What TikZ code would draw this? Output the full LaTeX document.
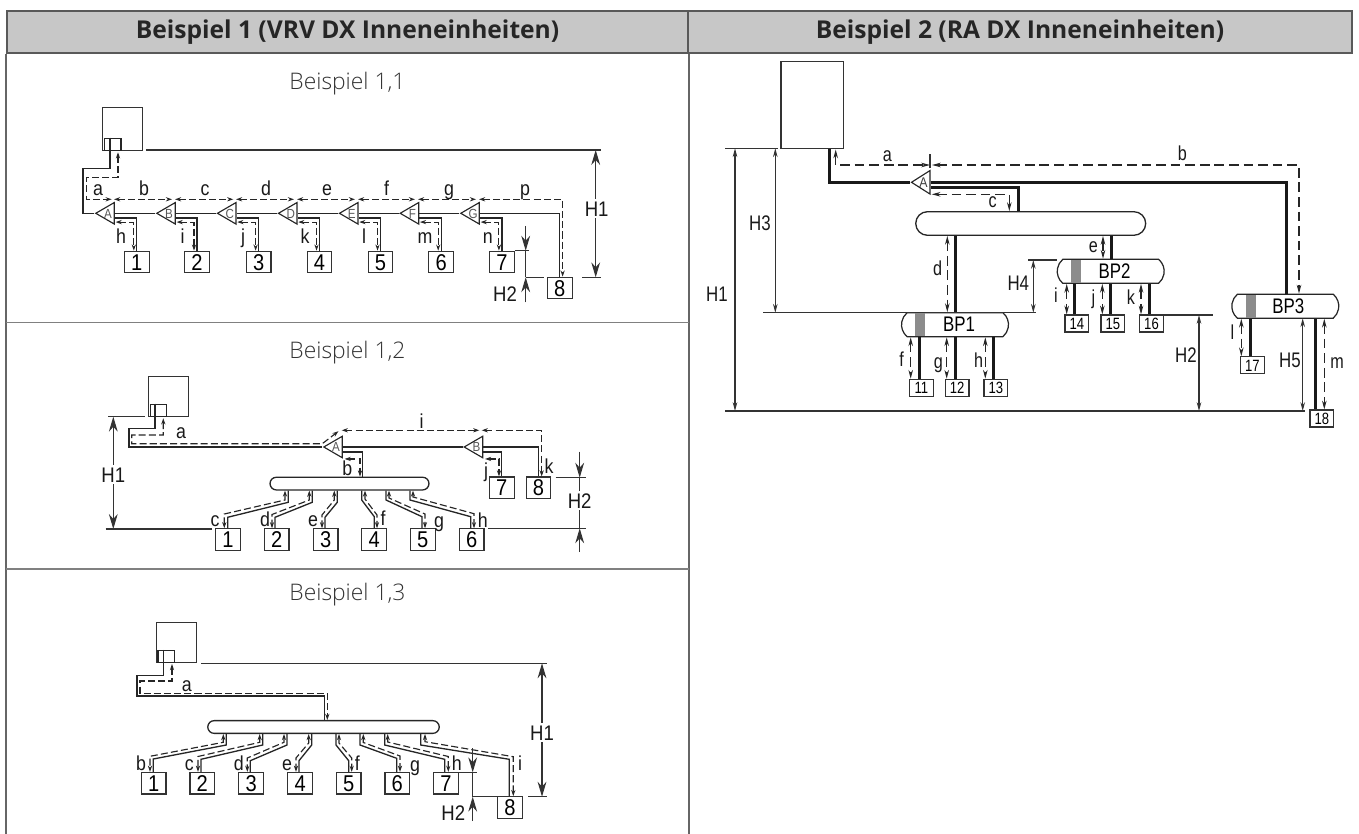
\documentclass[tikz,border=0pt]{standalone}
\usepackage{fontspec}
\usetikzlibrary{arrows.meta,shapes.geometric,shapes.misc}
\newfontfamily\lblfont[FakeStretch=0.88]{Liberation Sans}
\newfontfamily\narrowfont[FakeStretch=0.8]{Liberation Sans}
\newfontfamily\headfont{Open Sans}
\newfontfamily\titfont{Open Sans Light}
\newcommand{\teel}[1]{\raisebox{-2.7pt}[0pt][0pt]{\makebox[0pt]{#1}}}
\tikzset{
  headcell/.style={draw=black!65, fill=black!22, line width=0.9pt, inner sep=0pt, minimum height=0.84cm, font=\headfont\bfseries\fontsize{14}{16}\selectfont, text=black!85},
  titcell/.style={inner sep=0pt, font=\titfont\fontsize{13}{15}\selectfont, text=black!80},
  frame/.style={draw=black!60, line width=0.9pt},
  pipe/.style={draw=black!85, line width=0.75pt},
  fatpipe/.style={draw=black!90, line width=1.7pt},
  dpipe/.style={draw=black!85, line width=0.65pt, dash pattern=on 4pt off 1.8pt, arrows={Stealth[length=3.5pt,width=2.4pt]-Stealth[length=3.5pt,width=2.4pt]}},
  dlong/.style={draw=black!85, line width=0.6pt, dash pattern=on 5.5pt off 2.8pt, arrows={Stealth[length=5pt,width=2.6pt]-Stealth[length=5pt,width=2.6pt]}},
  dimtick/.style={draw=black!80, line width=0.75pt},
  dimbig/.style={draw=black!80, line width=0.6pt, arrows={Stealth[length=8.5pt,width=5pt]-Stealth[length=8.5pt,width=5pt]}},
  dimone/.style={draw=black!80, line width=0.6pt, arrows={-Stealth[length=8.5pt,width=5pt]}},
  dimthin/.style={draw=black!80, line width=0.6pt, arrows={Stealth[length=5pt,width=2.6pt]-Stealth[length=5pt,width=2.6pt]}},
  ounit/.style={draw=black!80, line width=0.7pt, inner sep=0pt, minimum width=0.8cm, minimum height=0.8cm},
  pcb/.style={draw=black!85, line width=0.7pt, inner sep=0pt, minimum width=0.33cm, minimum height=0.24cm},
  unit/.style={draw=black!80, line width=0.7pt, inner sep=0pt, minimum width=0.494cm, minimum height=0.43cm, text height=9.3pt, text depth=0pt, font=\lblfont\fontsize{13}{15}\selectfont},
  minibox/.style={draw=black!80, line width=0.7pt, inner sep=0pt, minimum width=0.474cm, minimum height=0.34cm, text height=6.6pt, text depth=0pt, font=\narrowfont\fontsize{9.3}{10}\selectfont},
  tee/.style={draw=black!85, line width=0.65pt, isosceles triangle, isosceles triangle stretches, shape border rotate=180, inner sep=0pt, minimum height=0.37cm, minimum width=0.43cm, anchor=apex, text=black!65, font=\lblfont\fontsize{7.5}{8}\selectfont},
  hdr/.style={draw=black!85, line width=0.75pt, rounded rectangle, rounded rectangle east arc=convex, inner sep=0pt},
  bpbox/.style={draw=black!85, line width=0.7pt, fill=white, rounded rectangle, rounded rectangle arc length=100, inner sep=0pt, minimum width=2.14cm, minimum height=0.48cm, font=\narrowfont\fontsize{12}{14}\selectfont},
  bpband/.style={fill=black!45, inner sep=0pt, minimum width=0.2cm, minimum height=0.46cm},
  lbl/.style={inner sep=0pt, text height=8pt, text depth=0pt, text=black!90, font=\lblfont\fontsize{11.5}{13}\selectfont},
  nlbl/.style={inner sep=0pt, text height=8pt, text depth=0pt, text=black!90, font=\narrowfont\fontsize{11.5}{13}\selectfont},
  dimlbl/.style={inner sep=1pt, fill=white, text height=8.6pt, text depth=0pt, text=black!90, font=\lblfont\fontsize{12}{14}\selectfont},
  ndimlbl/.style={inner sep=0pt, text height=8.6pt, text depth=0pt, text=black!90, font=\narrowfont\fontsize{12}{14}\selectfont}
}
\begin{document}
\begin{tikzpicture}[x=0.02cm,y=-0.02cm]
\useasboundingbox (0,0) rectangle (1359,834);

\node[headcell, minimum width=13.62cm] (head1) at (347.5,32) {Beispiel 1 (VRV DX Inneneinheiten)};
\node[headcell, minimum width=13.28cm] (head2) at (1020,32) {Beispiel 2 (RA DX Inneneinheiten)};
\draw[frame] (head1.south west) -- (head1.west |- 0,834);
\draw[frame] (head1.south east) -- (head1.east |- 0,834);
\draw[frame, draw=black!50, line width=1.1pt] (head1.west |- 0,322.5) -- (head1.east |- 0,322.5);
\draw[frame, draw=black!50, line width=1.1pt] (head1.west |- 0,569) -- (head1.east |- 0,569);
\node[titcell] (tit1) at (347.5,84) {Beispiel 1,1};
\node[titcell] (tit2) at (347.5,353) {Beispiel 1,2};
\node[titcell] (tit3) at (347.5,595) {Beispiel 1,3};

\node[ounit, minimum height=0.86cm] (ou1) at (122.3,128.8) {};
\node[pcb] (pc1) at (112.7,144.3) {};
\node[tee] (a1) at (94.3,213.3) {\teel{A}};
\node[tee] (b1) at (155.3,213.3) {\teel{B}};
\node[tee] (c1) at (216,213.3) {\teel{C}};
\node[tee] (d1) at (277,213.3) {\teel{D}};
\node[tee] (e1) at (338,213.3) {\teel{E}};
\node[tee] (f1) at (398.7,213.3) {\teel{F}};
\node[tee] (g1) at (459.3,213.3) {\teel{G}};
\node[unit] (u11) at (136.8,262) {1};
\node[unit] (u12) at (197,262) {2};
\node[unit] (u13) at (258.6,262) {3};
\node[unit] (u14) at (319.5,262) {4};
\node[unit] (u15) at (380.5,262) {5};
\node[unit] (u16) at (441.2,262) {6};
\node[unit] (u17) at (501.9,262) {7};
\node[unit] (u18) at (559.8,288) {8};
\draw[pipe] ([xshift=-1.5pt]pc1.north) |- (83,168.3) |- (a1.apex);
\draw[pipe] (a1.lower side) -- (b1.apex);
\draw[pipe] (b1.lower side) -- (c1.apex);
\draw[pipe] (c1.lower side) -- (d1.apex);
\draw[pipe] (d1.lower side) -- (e1.apex);
\draw[pipe] (e1.lower side) -- (f1.apex);
\draw[pipe] (f1.lower side) -- (g1.apex);
\draw[pipe] (g1.lower side) -| (u18.north);
\draw[pipe] ([yshift=-2.6pt]a1.lower side) -| (u11.north);
\draw[pipe] ([yshift=-2.6pt]b1.lower side) -| (u12.north);
\draw[pipe] ([yshift=-2.6pt]c1.lower side) -| (u13.north);
\draw[pipe] ([yshift=-2.6pt]d1.lower side) -| (u14.north);
\draw[pipe] ([yshift=-2.6pt]e1.lower side) -| (u15.north);
\draw[pipe] ([yshift=-2.6pt]f1.lower side) -| (u16.north);
\draw[pipe] ([yshift=-2.6pt]g1.lower side) -| (u17.north);
\draw[dpipe] ([yshift=-5pt,xshift=0.4pt]a1.lower side) -| ([xshift=-1.7pt]u11.north);
\draw[dpipe] ([yshift=-5pt,xshift=0.4pt]b1.lower side) -| ([xshift=-1.7pt]u12.north);
\draw[dpipe] ([yshift=-5pt,xshift=0.4pt]c1.lower side) -| ([xshift=-1.7pt]u13.north);
\draw[dpipe] ([yshift=-5pt,xshift=0.4pt]d1.lower side) -| ([xshift=-1.7pt]u14.north);
\draw[dpipe] ([yshift=-5pt,xshift=0.4pt]e1.lower side) -| ([xshift=-1.7pt]u15.north);
\draw[dpipe] ([yshift=-5pt,xshift=0.4pt]f1.lower side) -| ([xshift=-1.7pt]u16.north);
\draw[dpipe] ([yshift=-5pt,xshift=0.4pt]g1.lower side) -| ([xshift=-1.7pt]u17.north);
\coordinate (ra1) at (118,152.3);
\coordinate (ra2) at (111.7,199.3);
\coordinate (rb1) at (114,199.3);
\coordinate (rb2) at (172,199.3);
\coordinate (rc1) at (175,199.3);
\coordinate (rc2) at (233.3,199.3);
\coordinate (rd1) at (236,199.3);
\coordinate (rd2) at (294,199.3);
\coordinate (re1) at (297,199.3);
\coordinate (re2) at (355,199.3);
\coordinate (rf1) at (358,199.3);
\coordinate (rf2) at (415,199.3);
\coordinate (rg1) at (418,199.3);
\coordinate (rg2) at (476,199.3);
\coordinate (rp1) at (479,199.3);
\draw[dpipe] (ra1) |- (86.3,177.7) |- (ra2);
\draw[dpipe] (rb1) -- (rb2);
\draw[dpipe] (rc1) -- (rc2);
\draw[dpipe] (rd1) -- (rd2);
\draw[dpipe] (re1) -- (re2);
\draw[dpipe] (rf1) -- (rf2);
\draw[dpipe] (rg1) -- (rg2);
\draw[dpipe] (rp1) -| ([xshift=1.6pt]u18.north);
\node[lbl] (la1) at (98,188.7) {a};
\node[lbl] (lb1) at (144,188.7) {b};
\node[lbl] (lc1) at (205,188.7) {c};
\node[lbl] (ld1) at (266,188.7) {d};
\node[lbl] (le1) at (327,188.7) {e};
\node[lbl] (lf1) at (386.7,188.7) {f};
\node[lbl] (lg1) at (449,188.7) {g};
\node[lbl] (lp1) at (525,188.7) {p};
\node[lbl] (lh1) at (121,236.3) {h};
\node[lbl] (li1) at (182.7,236.3) {i};
\node[lbl] (lj1) at (243,236.3) {j};
\node[lbl] (lk1) at (305,236.3) {k};
\node[lbl] (ll1) at (364,236.3) {l};
\node[lbl] (lm1) at (425,236.3) {m};
\node[lbl] (ln1) at (487.7,236.3) {n};
\coordinate (h1t) at (595.7,150);
\coordinate (h1b) at (595.7,277.3);
\coordinate (h2a) at (525.7,226);
\coordinate (h2t) at (525.7,250.7);
\coordinate (h2b) at (525.7,277.3);
\coordinate (h2c) at (525.7,302.3);
\draw[dimtick] (h1t -| 146,0) -- (h1t -| 600.5,0);
\draw[dimtick] (h1b -| 582.3,0) -- (h1b -| 600.5,0);
\draw[dimbig] (h1t) -- (h1b);
\draw[dimtick] (h2t -| 515,0) -- (h2t -| 529,0);
\draw[dimtick] (h2b) -- (h2b -| 544,0);
\draw[dimone] (h2a) -- (h2t);
\draw[dimtick] (h2t) -- (h2b);
\draw[dimone] (h2c) -- (h2b);
\node[dimlbl] (lh11) at (596.7,208.5) {H1};
\node[dimlbl] (lh21) at (505,293.5) {H2};

\node[ounit] (ou2) at (168.2,396.5) {};
\node[pcb] (pc2) at (158.5,410.3) {};
\node[tee] (a2) at (322.3,447) {\teel{A}};
\node[tee] (b2) at (462.7,447) {\teel{B}};
\node[hdr, minimum width=3.18cm, minimum height=0.254cm] (hd2) at (349.5,483.6) {};
\node[unit] (u21) at (228,539.6) {1};
\node[unit] (u22) at (276.7,539.6) {2};
\node[unit] (u23) at (325.7,539.6) {3};
\node[unit] (u24) at (374.2,539.6) {4};
\node[unit] (u25) at (422.8,539.6) {5};
\node[unit] (u26) at (471.7,539.6) {6};
\node[unit] (u27) at (501.8,487.8) {7};
\node[unit] (u28) at (538.5,487.8) {8};
\draw[pipe] ([xshift=-2pt]pc2.north) |- (129,428.3) |- (a2.apex);
\draw[pipe] (a2.lower side) -- (b2.apex);
\draw[pipe] ([yshift=-2.8pt]a2.lower side) -| (hd2.north -| 362.3,0);
\draw[pipe] ([yshift=-2.8pt]b2.lower side) -| (u27.north);
\draw[pipe] (b2.lower side) -| (u28.north);
\draw[dpipe] ([yshift=-6.8pt,xshift=1pt]a2.lower side) -| (hd2.north -| 360,0);
\draw[dpipe] ([yshift=-6.8pt,xshift=1pt]b2.lower side) -| ([xshift=-1.6pt]u27.north);
\coordinate (sa1) at (163.3,418.3);
\coordinate (sa2) at (338.5,431.2);
\coordinate (si1) at (341.7,430.3);
\coordinate (si2) at (479.3,430.3);
\coordinate (sk1) at (481.7,430.3);
\draw[dpipe] (sa1) |- (131.7,435) |- (322.3,443.7) -- (sa2);
\draw[dpipe] (si1) -- (si2);
\draw[dpipe] (sk1) -| ([xshift=1.8pt]u28.north);
\draw[pipe] (hd2.south -| 288.3,0) -- (288.3,502.3) -- (227.7,517.3) -- (227.7,0 |- u21.north);
\draw[pipe] (hd2.south -| 312.3,0) -- (312.3,502.3) -- (275,517.3) -- (275,0 |- u22.north);
\draw[pipe] (hd2.south -| 337.3,0) -- (337.3,502.3) -- (325,517.3) -- (325,0 |- u23.north);
\draw[pipe] (hd2.south -| 361.7,0) -- (361.7,500) -- (374.3,516.7) -- (374.3,0 |- u24.north);
\draw[pipe] (hd2.south -| 386,0) -- (386,500) -- (422,516.7) -- (422,0 |- u25.north);
\draw[pipe] (hd2.south -| 410,0) -- (410,500) -- (470.7,516.7) -- (470.7,0 |- u26.north);
\draw[dpipe] (hd2.south -| 285,0) -- (285,500) -- (224.3,514) -- (224.3,0 |- u21.north);
\draw[dpipe] (hd2.south -| 309.3,0) -- (309.3,500) -- (272,514.5) -- (272,0 |- u22.north);
\draw[dpipe] (hd2.south -| 334.3,0) -- (334.3,500) -- (322,515) -- (322,0 |- u23.north);
\draw[dpipe] (hd2.south -| 365,0) -- (365,499) -- (377,515) -- (377,0 |- u24.north);
\draw[dpipe] (hd2.south -| 389,0) -- (389,498) -- (425,514) -- (425,0 |- u25.north);
\draw[dpipe] (hd2.south -| 413,0) -- (413,497) -- (474,513.7) -- (474,0 |- u26.north);
\node[lbl] (la2) at (181,431.7) {a};
\node[lbl] (lb2) at (347.3,468.7) {b};
\node[lbl] (lc2) at (215,519.7) {c};
\node[lbl] (ld2) at (265,519.7) {d};
\node[lbl] (le2) at (313,519.7) {e};
\node[lbl] (lf2) at (383,518.7) {f};
\node[lbl] (lg2) at (439,520.7) {g};
\node[lbl] (lh2) at (482.7,520) {h};
\node[lbl] (li2) at (421.7,421.3) {i};
\node[lbl] (lj2) at (486,470) {j};
\node[lbl] (lk2) at (549,466.3) {k};
\coordinate (h3t) at (113.3,416.7);
\coordinate (h3b) at (113.3,529);
\coordinate (h4a) at (579.7,451.7);
\coordinate (h4t) at (579.7,477.7);
\coordinate (h4b) at (579.7,528.3);
\coordinate (h4c) at (579.7,552);
\draw[dimtick] (h3t -| 108.3,0) -- (h3t -| 145,0);
\draw[dimtick] (h3b -| 105.7,0) -- (h3b -| 211.7,0);
\draw[dimbig] (h3t) -- (h3b);
\draw[dimtick] (h4t -| 555.7,0) -- (h4t -| 585.7,0);
\draw[dimtick] (h4b -| 488.3,0) -- (h4b -| 585.7,0);
\draw[dimone] (h4a) -- (h4t);
\draw[dimtick] (h4t) -- (h4b);
\draw[dimone] (h4c) -- (h4b);
\node[dimlbl] (lh12) at (113.3,474.5) {H1};
\node[dimlbl] (lh22) at (579.7,500.7) {H2};

\node[ounit] (ou3) at (176.2,642.7) {};
\node[pcb] (pc3) at (166.3,656.5) {};
\node[hdr, minimum width=4.63cm, minimum height=0.254cm] (hd3) at (323.5,727) {};
\node[unit] (u31) at (153.7,783.2) {1};
\node[unit] (u32) at (202.3,783.2) {2};
\node[unit] (u33) at (251.2,783.2) {3};
\node[unit] (u34) at (300.2,783.2) {4};
\node[unit] (u35) at (348.7,783.2) {5};
\node[unit] (u36) at (397.3,783.2) {6};
\node[unit] (u37) at (446,783.2) {7};
\node[unit] (u38) at (510,807.5) {8};
\draw[pipe] ([xshift=-1.5pt]pc3.north) |- (137,675.3) |- (324.3,696) -- (hd3.north -| 324.3,0);
\coordinate (ta1) at (172,664);
\draw[dpipe] (ta1) |- (140,681) |- (327.3,693.3) -- (hd3.north -| 327.3,0);
\draw[pipe] (hd3.south -| 226.3,0) -- (226.3,745) -- (153.3,759) -- (153.3,0 |- u31.north);
\draw[pipe] (hd3.south -| 262.7,0) -- (262.7,745) -- (201,759.3) -- (201,0 |- u32.north);
\draw[pipe] (hd3.south -| 287,0) -- (287,745) -- (250.3,760.7) -- (250.3,0 |- u33.north);
\draw[pipe] (hd3.south -| 311.7,0) -- (311.7,745) -- (299,760.7) -- (299,0 |- u34.north);
\draw[pipe] (hd3.south -| 336,0) -- (336,745) -- (348.7,760.7) -- (348.7,0 |- u35.north);
\draw[pipe] (hd3.south -| 360,0) -- (360,745) -- (396.7,758.3) -- (396.7,0 |- u36.north);
\draw[pipe] (hd3.south -| 384.7,0) -- (384.7,745) -- (444.7,759.3) -- (444.7,0 |- u37.north);
\draw[pipe] (hd3.south -| 420.7,0) -- (420.7,745) -- (509.3,759.3) -- (509.3,0 |- u38.north);
\draw[dpipe] (hd3.south -| 223.3,0) -- (223.3,742.3) -- (150,756.3) -- (150,0 |- u31.north);
\draw[dpipe] (hd3.south -| 259.7,0) -- (259.7,742.3) -- (198,756.5) -- (198,0 |- u32.north);
\draw[dpipe] (hd3.south -| 284,0) -- (284,742.3) -- (247.3,758) -- (247.3,0 |- u33.north);
\draw[dpipe] (hd3.south -| 308.7,0) -- (308.7,743) -- (296,758) -- (296,0 |- u34.north);
\draw[dpipe] (hd3.south -| 339,0) -- (339,743) -- (351.7,758) -- (351.7,0 |- u35.north);
\draw[dpipe] (hd3.south -| 363.3,0) -- (363.3,742.5) -- (400,756) -- (400,0 |- u36.north);
\draw[dpipe] (hd3.south -| 387.7,0) -- (387.7,742) -- (448.3,756.5) -- (448.3,0 |- u37.north);
\draw[dpipe] (hd3.south -| 425,0) -- (425,741.7) -- (513.3,756.7) -- (513.3,0 |- u38.north);
\node[lbl] (la3) at (186.7,684) {a};
\node[lbl] (lb3) at (141,763) {b};
\node[lbl] (lc3) at (189.3,763) {c};
\node[lbl] (ld3) at (238.7,763) {d};
\node[lbl] (le3) at (287,763) {e};
\node[lbl] (lf3) at (357.3,763) {f};
\node[lbl] (lg3) at (415,764.7) {g};
\node[lbl] (lh3) at (456.7,763) {h};
\node[lbl] (li3) at (520,763) {i};
\coordinate (h5t) at (542,663.3);
\coordinate (h5b) at (542,796.7);
\coordinate (h6a) at (472.7,748.3);
\coordinate (h6t) at (472.7,772.3);
\coordinate (h6b) at (472.7,796.7);
\coordinate (h6c) at (472.7,821);
\draw[dimtick] (h5t -| 201,0) -- (h5t -| 546.7,0);
\draw[dimtick] (h5b -| 528.3,0) -- (h5b -| 546.7,0);
\draw[dimbig] (h5t) -- (h5b);
\draw[dimtick] (h6t -| 459.3,0) -- (h6t -| 476.7,0);
\draw[dimtick] (h6b) -- (h6b -| 497,0);
\draw[dimone] (h6a) -- (h6t);
\draw[dimtick] (h6t) -- (h6b);
\draw[dimone] (h6c) -- (h6b);
\node[dimlbl] (lh13) at (542,732.5) {H1};
\node[dimlbl] (lh23) at (453.3,812.5) {H2};

\node[ounit, minimum width=1.246cm, minimum height=1.732cm] (ou4) at (812.2,105) {};
\node[tee, text=black!75, font=\lblfont\fontsize{8}{9}\selectfont, minimum width=0.47cm] (a4) at (910,182.3) {\teel{A}};
\node[hdr, minimum width=4.6cm, minimum height=0.472cm] (hd4) at (1030.7,223.5) {};
\node[bpbox] (bp1) at (955,324.7) {\hspace{4.5pt}BP1};
\node[bpband] (bd1) at (920,324.7) {};
\node[bpbox] (bp2) at (1110.7,271.3) {\hspace{4.5pt}BP2};
\node[bpband] (bd2) at (1076,271.3) {};
\node[bpbox] (bp3) at (1285.3,306.2) {\hspace{3.4pt}BP3};
\node[bpband] (bd3) at (1251,306.2) {};
\node[minibox] (u411) at (921.3,387.8) {11};
\node[minibox] (u412) at (957.2,387.8) {12};
\node[minibox] (u413) at (995.8,387.8) {13};
\node[minibox] (u414) at (1076.8,323.5) {14};
\node[minibox] (u415) at (1112.8,323.5) {15};
\node[minibox] (u416) at (1151.5,323.5) {16};
\node[minibox] (u417) at (1252.3,365.3) {17};
\node[minibox] (u418) at (1321.8,418.5) {18};
\draw[fatpipe] (ou4.south -| 829.3,0) |- (a4.apex);
\draw[fatpipe] (a4.lower side) -| (bp3.north -| 1286.7,0);
\draw[fatpipe] ([yshift=-3pt]a4.lower side) -| (hd4.north -| 1018.7,0);
\draw[fatpipe] (hd4.south -| 955.5,0) -- (bp1.north -| 955.5,0);
\draw[fatpipe] (hd4.south -| 1111,0) -- (bp2.north -| 1111,0);
\draw[fatpipe] (bp1.south -| 919,0) -- (u411.north -| 919,0);
\draw[fatpipe] (bp1.south -| 955,0) -- (u412.north -| 955,0);
\draw[fatpipe] (bp1.south -| 993.7,0) -- (u413.north -| 993.7,0);
\draw[fatpipe] (bp2.south -| 1074.7,0) -- (u414.north -| 1074.7,0);
\draw[fatpipe] (bp2.south -| 1110.3,0) -- (u415.north -| 1110.3,0);
\draw[fatpipe] (bp2.south -| 1149.3,0) -- (u416.north -| 1149.3,0);
\draw[fatpipe] (bp3.south -| 1250,0) -- (u417.north -| 1250,0);
\draw[fatpipe] (bp3.south -| 1315.3,0) -- (u418.north -| 1315.3,0);
\coordinate (va1) at (835.7,149.5);
\coordinate (va2) at (930,165);
\coordinate (vb1) at (932,165);
\coordinate (vc1) at (931.7,194.3);
\draw[dlong] (va1) |- (va2);
\draw[dlong] (vb1) -| (bp3.north -| 1299,0);
\draw[dlong] (vc1) -| (hd4.north -| 1009.3,0);
\draw[dlong] (hd4.south -| 947.3,0) -- (bp1.north -| 947.3,0);
\draw[dlong] (hd4.south -| 1103,0) -- (bp2.north -| 1103,0);
\draw[dlong] (bp1.south -| 910.7,0) -- (u411.north -| 910.7,0);
\draw[dlong] (bp1.south -| 946.7,0) -- (u412.north -| 946.7,0);
\draw[dlong] (bp1.south -| 985.3,0) -- (u413.north -| 985.3,0);
\draw[dlong] (bp2.south -| 1066.7,0) -- (u414.north -| 1066.7,0);
\draw[dlong] (bp2.south -| 1102.3,0) -- (u415.north -| 1102.3,0);
\draw[dlong] (bp2.south -| 1141,0) -- (u416.north -| 1141,0);
\draw[dlong] (bp3.south -| 1241.3,0) -- (u417.north -| 1241.3,0);
\draw[dlong] (bp3.south -| 1324.3,0) -- (u418.north -| 1324.3,0);
\draw[dimtick] (va2 |- 0,154.3) -- (va2 |- 0,168.3);
\node[nlbl] (la4) at (887.3,154) {a};
\node[nlbl] (lb4) at (1182.3,153.5) {b};
\node[nlbl] (lc4) at (992.7,200.7) {c};
\node[nlbl] (ld4) at (937.7,268.3) {d};
\node[nlbl] (le4) at (1093.3,245) {e};
\node[nlbl] (lf4) at (901.7,359.3) {f};
\node[nlbl] (lg4) at (938.3,361) {g};
\node[nlbl] (lh4) at (978.7,360) {h};
\node[nlbl] (li4) at (1056,295.7) {i};
\node[nlbl] (lj4) at (1093.3,297) {j};
\node[nlbl] (lk4) at (1131,297) {k};
\node[nlbl] (ll4) at (1232.3,332.3) {l};
\node[nlbl] (lm4) at (1337,361) {m};
\coordinate (k1t) at (735,148.3);
\coordinate (k1b) at (735,411);
\coordinate (k3t) at (775.3,148.3);
\coordinate (k3b) at (775.3,312.7);
\coordinate (k4t) at (1033.3,260);
\coordinate (k4b) at (1033.3,312.7);
\coordinate (k2t) at (1199,315);
\coordinate (k2b) at (1199,411);
\coordinate (k5t) at (1302.7,318.3);
\coordinate (k5b) at (1302.7,411);
\draw[dimtick] (k1t -| 725,0) -- (k1t -| 778.3,0);
\draw[dimtick] (k1b -| 725,0) -- (k1b -| 1305,0);
\draw[dimtick] (k3b -| 763,0) -- (k3b -| 1036,0);
\draw[dimtick] (k4t -| 1028.3,0) -- (k4t -| 1057,0);
\draw[dimtick] (k2t -| 1163,0) -- (k2t -| 1213.3,0);
\draw[dimthin] (k1t) -- (k1b);
\draw[dimthin] (k3t) -- (k3b);
\draw[dimthin] (k4t) -- (k4b);
\draw[dimthin] (k2t) -- (k2b);
\draw[dimthin] (k5t) -- (k5b);
\node[ndimlbl] (lh14) at (717,294) {H1};
\node[ndimlbl] (lh34) at (760,223.3) {H3};
\node[ndimlbl] (lh44) at (1018.3,283) {H4};
\node[ndimlbl] (lh24) at (1186,355) {H2};
\node[ndimlbl] (lh54) at (1290,360) {H5};
\end{tikzpicture}
\end{document}
